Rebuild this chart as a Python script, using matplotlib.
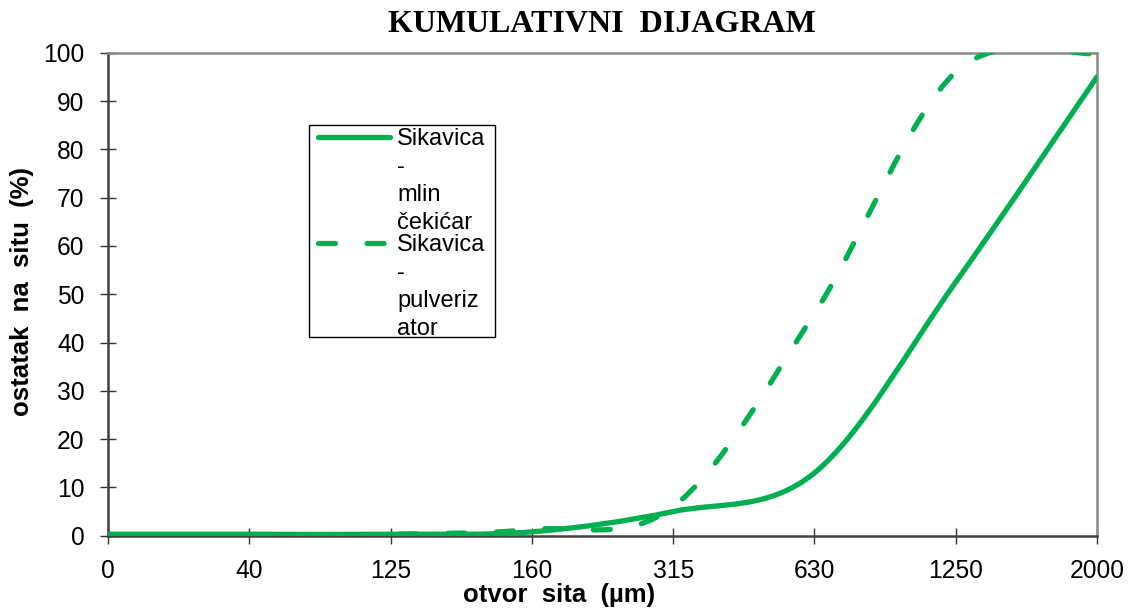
import matplotlib
matplotlib.use("Agg")
import matplotlib.pyplot as plt
from matplotlib.path import Path
from matplotlib.patches import PathPatch, Rectangle
from matplotlib.lines import Line2D
import numpy as np

# ---- data ----
categories = ["0", "40", "125", "160", "315", "630", "1250", "2000"]
mlin_cekicar = [0.3, 0.3, 0.3, 0.8, 5.0, 13.0, 52.5, 95.0]
pulverizator = [0.2, 0.2, 0.3, 1.3, 6.0, 46.0, 96.0, 99.8]
series_labels = ["Sikavica\n-\nmlin\nčekićar", "Sikavica\n-\npulveriz\nator"]
title = "KUMULATIVNI  DIJAGRAM"
xlabel = "otvor  sita  (µm)"
ylabel = "ostatak  na  situ  (%)"

GREEN = "#00B050"
W, H = 1130, 608
fig = plt.figure(figsize=(W / 100, H / 100), dpi=100)
L, R, T, B = 108, 1097, 52.7, 535.7
ax = fig.add_axes([L / W, (H - B) / H, (R - L) / W, (B - T) / H])

def smooth_path(xs, ys):
    """Excel-like smoothed line: Catmull-Rom spline as cubic Bezier segments."""
    pts = np.column_stack([xs, ys]).astype(float)
    n = len(pts)
    verts = [pts[0]]
    codes = [Path.MOVETO]
    for i in range(n - 1):
        p_prev = pts[i - 1] if i > 0 else pts[i]
        p0, p1 = pts[i], pts[i + 1]
        p_next = pts[i + 2] if i + 2 < n else pts[i + 1]
        c1 = p0 + (p1 - p_prev) / 6.0
        c2 = p1 - (p_next - p0) / 6.0
        verts += [c1, c2, p1]
        codes += [Path.CURVE4] * 3
    return Path(verts, codes)

x = np.arange(len(categories))
lw = 3.8
dash = (0, (3.2, 6.0))
for ys, ls in [(mlin_cekicar, "-"), (pulverizator, dash)]:
    patch = PathPatch(smooth_path(x, ys), facecolor="none", edgecolor=GREEN,
                      lw=lw, linestyle=ls, capstyle="round", joinstyle="round",
                      zorder=3)
    ax.add_patch(patch)

ax.set_xlim(0, len(categories) - 1)
ax.set_ylim(0, 100)
ax.set_xticks(x)
ax.set_xticklabels(categories)
ax.set_yticks(np.arange(0, 101, 10))

font = "Liberation Sans"
ax.tick_params(axis="both", direction="inout", length=11.5, width=1.0,
               color="#333333", labelsize=17.7, labelfontfamily=font,
               labelcolor="black")
ax.tick_params(axis="x", pad=11)
ax.tick_params(axis="y", pad=11)

for side in ["left", "bottom"]:
    ax.spines[side].set_color("#404040")
    ax.spines[side].set_linewidth(1.8)
for side in ["top", "right"]:
    ax.spines[side].set_color("#8a8a8a")
    ax.spines[side].set_linewidth(1.8)

fig.text(602 / W, 1 - 25 / H, title, family="Liberation Serif", weight="bold",
         fontsize=23, ha="center", va="center")
fig.text(559 / W, 1 - 595 / H, xlabel, family=font, weight="bold",
         fontsize=18.5, ha="center", va="center")
fig.text(22 / W, 1 - 292 / H, ylabel, family=font, weight="bold",
         fontsize=18.5, ha="center", va="center", rotation=90)

# ---- legend (drawn manually to match layout) ----
fig.patches.append(Rectangle((309 / W, 1 - 337 / H), (495 - 309) / W,
                             (337 - 125) / H, transform=fig.transFigure,
                             facecolor="white", edgecolor="black", lw=1.0,
                             zorder=4))
styles = ["-", dash]
top_y = [137, 243]
for lab, st, yy in zip(series_labels, styles, top_y):
    fig.lines.append(Line2D([318 / W, 390 / W], [1 - yy / H, 1 - yy / H],
                            transform=fig.transFigure, color=GREEN, lw=lw,
                            linestyle=st, solid_capstyle="round",
                            dash_capstyle="round", zorder=5))
    fig.text(397 / W, 1 - (yy - 9) / H, lab, family=font, fontsize=17,
             ha="left", va="top", linespacing=1.36, zorder=5)

fig.savefig("out.png", dpi=100)
